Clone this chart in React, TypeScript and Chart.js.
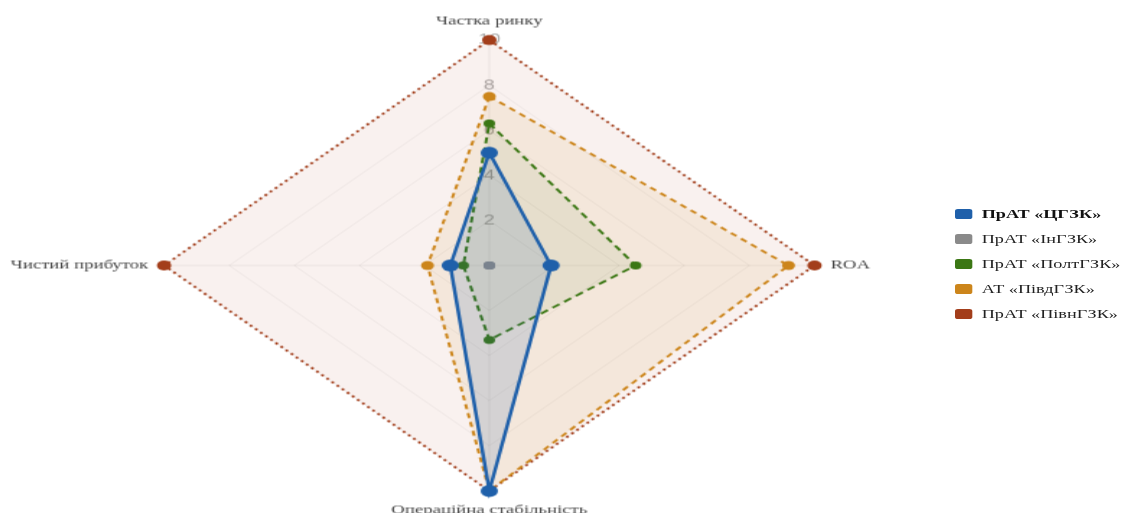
import React, { useEffect, useRef } from "react";
import { Chart, registerables } from "chart.js";

Chart.register(...registerables);

const axisLabels = ["Частка ринку", "ROA", "Операційна стабільність", "Чистий прибуток"];
const seriesNames = ["ПрАТ «ЦГЗК»", "ПрАТ «ІнГЗК»", "ПрАТ «ПолтГЗК»", "АТ «ПівдГЗК»", "ПрАТ «ПівнГЗК»"];
const cgzk = [5, 1.9, 10, 1.2];
const ingzk = [0, 0, 0, 0];
const poltgzk = [6.3, 4.5, 3.3, 0.8];
const pivdgzk = [7.5, 9.2, 10, 1.9];
const pivngzk = [10, 10, 10, 10];
const seriesValues = [cgzk, ingzk, poltgzk, pivdgzk, pivngzk];

const colors = ["#1f60aa", "#8a8a8a", "#3b7714", "#cc851b", "#a33e1b"];
const fills = [
  "rgba(31,96,170,0.15)",
  "rgba(138,138,138,0.10)",
  "rgba(59,119,20,0.08)",
  "rgba(204,133,27,0.09)",
  "rgba(163,62,27,0.07)",
];
const dashes = [[], [], [6, 4], [5, 4], [2, 3]];
const widths = [2.5, 2, 2, 2, 2];
const radii = [6, 4, 4, 4.5, 5];

const S = 1.443;
const CW = 740;
const CH = 530;
const TX = 489.3 - S * (CW / 2);

export default function App() {
  const ref = useRef<HTMLCanvasElement | null>(null);
  useEffect(() => {
    if (!ref.current) return;
    const chart = new Chart(ref.current, {
      type: "radar",
      data: {
        labels: axisLabels,
        datasets: seriesNames.map((name, i) => ({
          label: name,
          data: seriesValues[i],
          borderColor: colors[i],
          backgroundColor: fills[i],
          borderWidth: widths[i],
          borderDash: dashes[i],
          fill: true,
          pointRadius: radii[i],
          pointBackgroundColor: colors[i],
          pointBorderColor: colors[i],
          pointBorderWidth: 0,
          tension: 0,
        })),
      },
      options: {
        animation: false,
        responsive: true,
        maintainAspectRatio: false,
        layout: { padding: { top: 13, bottom: 13, left: 0, right: 0 } },
        plugins: { legend: { display: false }, tooltip: { enabled: false } },
        scales: {
          r: {
            min: 0,
            max: 10,
            ticks: {
              stepSize: 2,
              color: "#a8a8a8",
              font: { family: "Liberation Sans", size: 14 },
              showLabelBackdrop: false,
              backdropPadding: 0,
            },
            pointLabels: {
              color: "#444",
              font: { family: "Liberation Serif", size: 13 },
              padding: 4,
            },
            grid: { color: "rgba(0,0,0,0.07)" },
            angleLines: { color: "rgba(0,0,0,0.07)" },
          },
        },
      },
    });
    return () => chart.destroy();
  }, []);

  return (
    <div style={{ position: "fixed", left: 0, top: 0, width: 1124, height: 513, overflow: "hidden", background: "#fff" }}>
      <div
        style={{
          position: "absolute",
          left: 0,
          top: 0,
          width: CW,
          height: CH,
          transform: `translate(${TX}px,1.5px) scaleX(${S})`,
          transformOrigin: "0 0",
        }}
      >
        <canvas ref={ref} />
      </div>
      <div
        style={{
          position: "absolute",
          left: 955,
          top: 201.5,
          transform: `scaleX(${S})`,
          transformOrigin: "0 0",
          fontFamily: "Liberation Serif",
          fontSize: 12.6,
          whiteSpace: "nowrap",
        }}
      >
        {seriesNames.map((name, i) => (
          <div key={name} style={{ height: 25, display: "flex", alignItems: "center" }}>
            <span
              style={{
                display: "inline-block",
                width: 12,
                height: 10,
                borderRadius: 2,
                background: colors[i],
                marginRight: 6.5,
              }}
            />
            <span style={{ color: i === 0 ? "#111" : "#222", fontWeight: i === 0 ? "bold" : "normal" }}>{name}</span>
          </div>
        ))}
      </div>
    </div>
  );
}
